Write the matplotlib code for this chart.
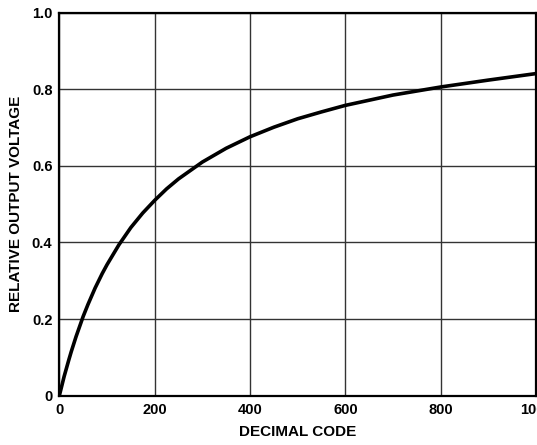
import matplotlib
matplotlib.use("Agg")
import matplotlib.pyplot as plt

# values
code = [0, 5, 10, 15, 20, 25, 35, 50, 60, 75, 90, 100, 125, 150, 175, 200, 225,
        250, 300, 350, 400, 450, 500, 550, 600, 700, 800, 900, 1000]
voltage = [0.0, 0.025, 0.050, 0.072, 0.094, 0.115, 0.154, 0.207, 0.238, 0.281,
           0.319, 0.342, 0.394, 0.439, 0.477, 0.510, 0.540, 0.566, 0.610,
           0.646, 0.676, 0.701, 0.723, 0.741, 0.758, 0.785, 0.806, 0.824, 0.841]

xticks = [0, 200, 400, 600, 800, 1000]
yticks = [0, 0.2, 0.4, 0.6, 0.8, 1.0]
ylabels = ["0", "0.2", "0.4", "0.6", "0.8", "1.0"]

plt.rcParams["font.family"] = ["Liberation Sans", "DejaVu Sans"]
plt.rcParams["font.weight"] = "bold"

fig = plt.figure(figsize=(5.37, 4.45), dpi=100)
ax = fig.add_axes([0.1105, 0.1108, 0.8877, 0.8607])

ax.plot(code, voltage, color="black", linewidth=2.6, solid_capstyle="round",
        solid_joinstyle="round")

ax.set_xlim(0, 1000)
ax.set_ylim(0, 1.0)
ax.set_xticks(xticks)
ax.set_yticks(yticks)
ax.set_yticklabels(ylabels)
ax.tick_params(length=0, labelsize=10.5, pad=5)
for lab in ax.get_xticklabels() + ax.get_yticklabels():
    lab.set_fontweight("bold")

ax.grid(True, color="#333333", linewidth=1.0)
ax.set_axisbelow(True)
for s in ax.spines.values():
    s.set_linewidth(1.6)
    s.set_color("black")

ax.set_xlabel("DECIMAL CODE", fontsize=11, fontweight="bold", labelpad=6)
ax.set_ylabel("RELATIVE OUTPUT VOLTAGE", fontsize=11, fontweight="bold", labelpad=6)

fig.savefig("out.png", dpi=100)
